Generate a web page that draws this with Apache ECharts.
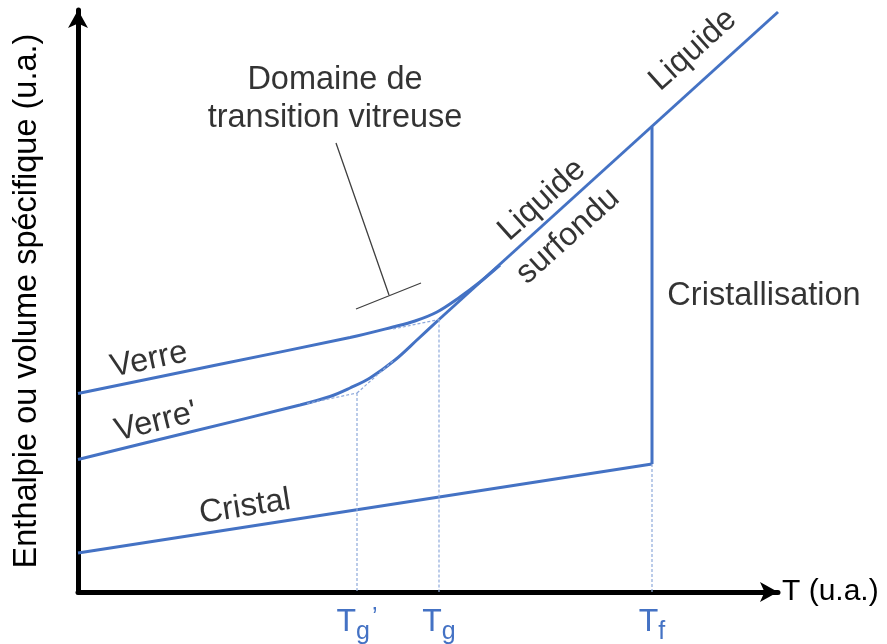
<!DOCTYPE html>
<html>
<head>
<meta charset="utf-8">
<script src="https://cdn.jsdelivr.net/npm/echarts@6/dist/echarts.min.js"></script>
<style>
  html, body { margin: 0; padding: 0; background: #fff; }
  #chart { width: 887px; height: 644px; }
</style>
</head>
<body>
<div id="chart"></div>
<script>
// values in arbitrary units (u.a.)
const cristal = [[0, 3.9], [57.4, 12.8]]
const cristallisation = [[57.4, 12.8], [57.4, 46.5]]
const liquide = [[36.1, 27.25], [70, 58]]
const verre = [[0, 19.85], [13.6, 22.65], [27.2, 25.45], [31.5, 26.5], [33.7, 27.1], [35.9, 28.0], [38.2, 29.5], [40.2, 31.0], [42.2, 32.7]]
const verrePrime = [[0, 13.25], [11, 15.95], [22.2, 18.7], [25.2, 19.55], [27.2, 20.4], [29.2, 21.4], [31.7, 23.2], [34, 25.3], [36.1, 27.25]]

// dotted construction lines (null breaks segments)
const guides = [
  [22.9, 18.85], [27.9, 19.9], null,
  [27.9, 19.9], [31.5, 23.1], null,
  [27.9, 19.9], [27.9, 0], null,
  [31.5, 26.3], [36.1, 27.25], null,
  [36.1, 27.25], [36.1, 0], null,
  [57.4, 12.8], [57.4, 0]
]

// "Domaine de transition vitreuse" pointer
const pointer = [[25.8, 44.9], [31.1, 29.7], null, [27.8, 28.3], [34.3, 30.9]]

const tickValues = [27.9, 36.1, 57.4]
const tickLabels = ["T_g'", 'T_g', 'T_f']

const annotations = [
  ['Domaine de', 25.7, 51.2],
  ['transition vitreuse', 25.7, 47.4],
  ['Verre', 7.1, 23.2],
  ["Verre'", 7.8, 17.0],
  ['Cristal', 16.7, 8.5],
  ['Liquide', 61.5, 54.2],
  ['Liquide ', 46.4, 39.2],
  ['surfondu', 49.0, 35.6],
  ['Cristallisation', 68.6, 29.6]
]
const rotations = { 'Verre': 12, "Verre'": 14, 'Cristal': 9, 'Liquide': 42, 'Liquide ': 42, 'surfondu': 42 }

const blue = '#4472C4'
const font = 'Liberation Sans'

const chart = echarts.init(document.getElementById('chart'))

function solid(name, data) {
  return {
    name: name, type: 'line', data: data, showSymbol: false, smooth: name.indexOf('verre') === 0 ? 0.35 : false,
    lineStyle: { color: blue, width: 3 }, silent: true
  }
}

chart.setOption({
  animation: false,
  grid: { left: 78, right: 109, top: 10, bottom: 52, outerBoundsMode: 'none' },
  xAxis: {
    type: 'value', min: 0, max: 70,
    name: 'T (u.a.)', nameLocation: 'end', nameGap: 4,
    nameTextStyle: { fontSize: 30, fontFamily: font, color: '#000', verticalAlign: 'middle' },
    axisLine: { lineStyle: { color: '#000', width: 5 }, symbol: ['none', 'arrow'], symbolSize: [15, 18] },
    axisTick: { show: false },
    splitLine: { show: false },
    axisLabel: {
      customValues: tickValues,
      margin: 14,
      formatter: function (v) {
        const lab = tickLabels[tickValues.indexOf(v)] || ''
        const parts = lab.split('_')
        let sub = parts[1] || ''
        let prime = ''
        if (sub.slice(-1) === "'") { prime = '’'; sub = sub.slice(0, -1) }
        return '{t|' + parts[0] + '}{s|' + sub + '}' + (prime ? '{p|' + prime + '}' : '')
      },
      rich: {
        t: { fontSize: 32, fontFamily: font, color: blue, lineHeight: 32, verticalAlign: 'top' },
        s: { fontSize: 25, fontFamily: font, color: blue, lineHeight: 25, verticalAlign: 'top', padding: [14, 0, 0, 0] },
        p: { fontSize: 25, fontFamily: font, color: blue, lineHeight: 28, verticalAlign: 'top', padding: [0, 0, 0, 2] }
      }
    }
  },
  yAxis: {
    type: 'value', min: 0, max: 58.2,
    name: 'Enthalpie ou volume spécifique (u.a.)', nameLocation: 'middle', nameGap: 34,
    nameTextStyle: { fontSize: 32.5, fontFamily: font, color: '#000' },
    axisLine: { lineStyle: { color: '#000', width: 5 }, symbol: ['none', 'arrow'], symbolSize: [15, 18] },
    axisTick: { show: false },
    axisLabel: { show: false },
    splitLine: { show: false }
  },
  series: [
    solid('cristal', cristal),
    solid('cristallisation', cristallisation),
    solid('liquide', liquide),
    solid('verre', verre),
    solid('verrePrime', verrePrime),
    {
      name: 'guides', type: 'line', data: guides, showSymbol: false, silent: true,
      lineStyle: { color: '#8EA9DB', width: 1.2, type: [3, 2] }
    },
    {
      name: 'pointer', type: 'line', data: pointer, showSymbol: false, silent: true,
      lineStyle: { color: '#404040', width: 1.3 }
    },
    {
      name: 'labels', type: 'scatter', symbolSize: 0, silent: true,
      data: annotations.map(function (a) {
        return {
          name: a[0], value: [a[1], a[2]],
          label: { rotate: rotations[a[0]] || 0 }
        }
      }),
      label: {
        show: true, position: 'inside', formatter: function (p) { return p.name.trim() },
        fontSize: 32.5, fontFamily: font, color: '#000'
      }
    }
  ]
})
</script>
</body>
</html>
